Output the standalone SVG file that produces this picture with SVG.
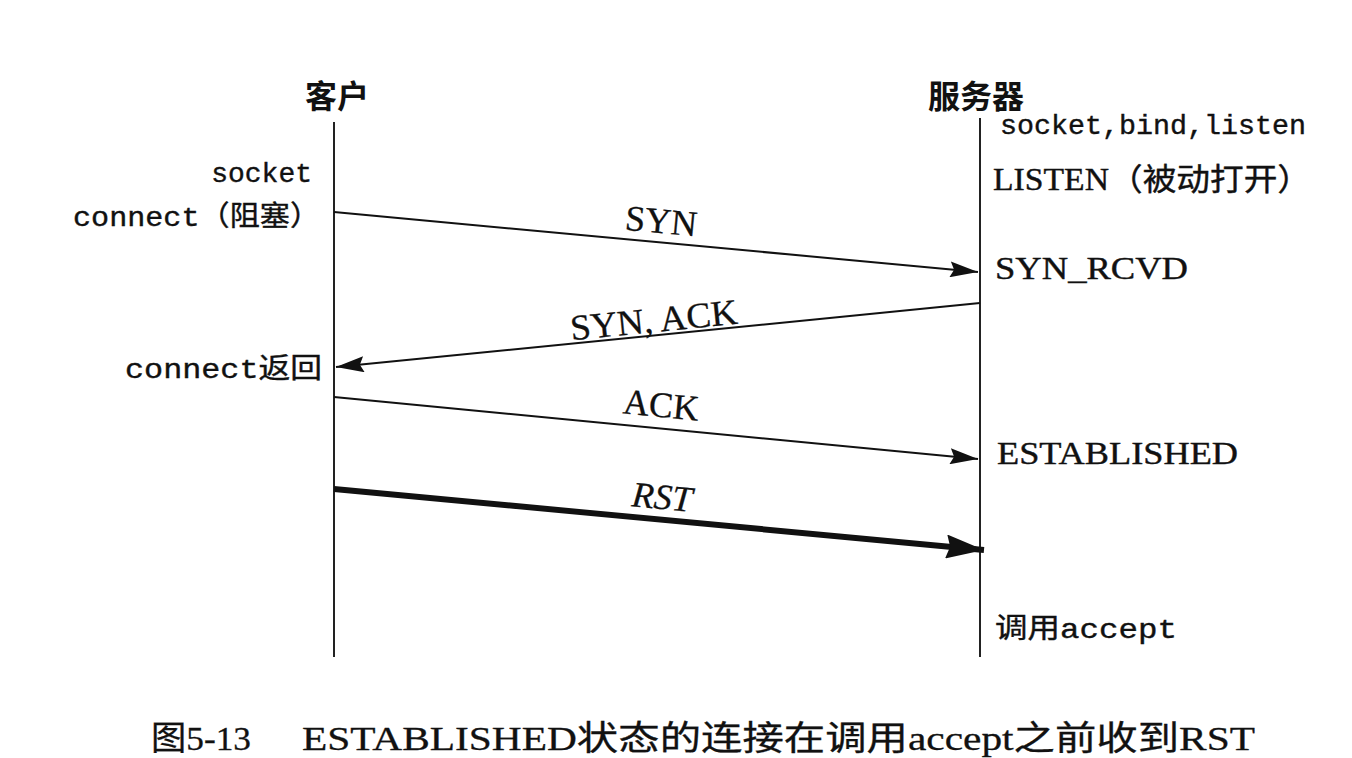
<svg xmlns="http://www.w3.org/2000/svg" width="1352" height="758" viewBox="0 0 1352 758">
<style>
.title{font-family:"Noto Sans CJK SC",sans-serif;font-weight:bold;font-size:32px;fill:#111}
.mono{font-family:"Liberation Mono","Noto Sans CJK SC",monospace;font-size:28px;fill:#111;stroke:#111;stroke-width:0.4}
.serif{font-family:"Liberation Serif","Noto Sans CJK SC",serif;font-size:31px;fill:#111;stroke:#111;stroke-width:0.4}
.lbl{font-family:"Liberation Serif",serif;font-size:36px;fill:#111;stroke:#111;stroke-width:0.3}
.cap{font-family:"Liberation Serif","Noto Sans CJK SC",serif;font-size:34px;fill:#111;stroke:#111;stroke-width:0.3}
.life{stroke:#222;stroke-width:2;fill:none}
.msg{stroke:#111;stroke-width:2;fill:none}
.thick{stroke:#111;stroke-width:6;fill:none}
</style>
<defs>
<marker id="ah" markerUnits="userSpaceOnUse" markerWidth="30" markerHeight="16" refX="28" refY="8" orient="auto">
<path d="M0,0 L28,8 L0,16 L4,8 Z" fill="#111"/>
</marker>
<marker id="ahb" markerUnits="userSpaceOnUse" markerWidth="40" markerHeight="24" refX="38" refY="12" orient="auto">
<path d="M0,0 L38,12 L0,24 L4,12 Z" fill="#111"/>
</marker>
</defs>
<rect width="1352" height="758" fill="#fff"/>
<g id="client">
<text class="title" x="337" y="108" text-anchor="middle">客户</text>
<line class="life" x1="334" y1="122" x2="334" y2="657"/>
<text class="mono" x="312" y="182" text-anchor="end">socket</text>
<text class="mono" x="320" y="226" text-anchor="end" textLength="247" lengthAdjust="spacingAndGlyphs">connect（阻塞）</text>
<text class="mono" x="322" y="378" text-anchor="end" textLength="197" lengthAdjust="spacingAndGlyphs">connect返回</text>
</g>
<g id="server">
<text class="title" x="976" y="108" text-anchor="middle" font-size="34">服务器</text>
<line class="life" x1="980" y1="118" x2="980" y2="657"/>
<text class="mono" x="1000" y="134" textLength="306" lengthAdjust="spacingAndGlyphs">socket,bind,listen</text>
<text class="serif" x="993" y="190" textLength="318" lengthAdjust="spacingAndGlyphs">LISTEN（被动打开）</text>
<text class="serif" x="995" y="279" textLength="193" lengthAdjust="spacingAndGlyphs">SYN_RCVD</text>
<text class="serif" x="997" y="464" textLength="241" lengthAdjust="spacingAndGlyphs">ESTABLISHED</text>
<text class="mono" x="995" y="638" textLength="182" lengthAdjust="spacingAndGlyphs">调用accept</text>
</g>
<g id="connectors">
<line class="msg" x1="334" y1="212" x2="978" y2="272" marker-end="url(#ah)"/>
<text class="lbl" x="660" y="233" text-anchor="middle" transform="rotate(5.3 660 233)">SYN</text>
<line class="msg" x1="980" y1="303" x2="336" y2="367" marker-end="url(#ah)"/>
<text class="lbl" x="655" y="332" text-anchor="middle" textLength="168" lengthAdjust="spacingAndGlyphs" transform="rotate(-5.7 655 332)">SYN, ACK</text>
<line class="msg" x1="334" y1="397" x2="978" y2="459" marker-end="url(#ah)"/>
<text class="lbl" x="660" y="417" text-anchor="middle" transform="rotate(5.5 660 417)">ACK</text>
<line class="thick" x1="334" y1="489" x2="984" y2="550" marker-end="url(#ahb)"/>
<text class="lbl" x="661" y="509" text-anchor="middle" font-style="italic" transform="rotate(5.3 661 509)">RST</text>
</g>
<g id="caption">
<text class="cap" x="151" y="750" textLength="100" lengthAdjust="spacingAndGlyphs">图5-13</text>
<text class="cap" x="302" y="750" textLength="953" lengthAdjust="spacingAndGlyphs">ESTABLISHED状态的连接在调用accept之前收到RST</text>
</g>
</svg>
